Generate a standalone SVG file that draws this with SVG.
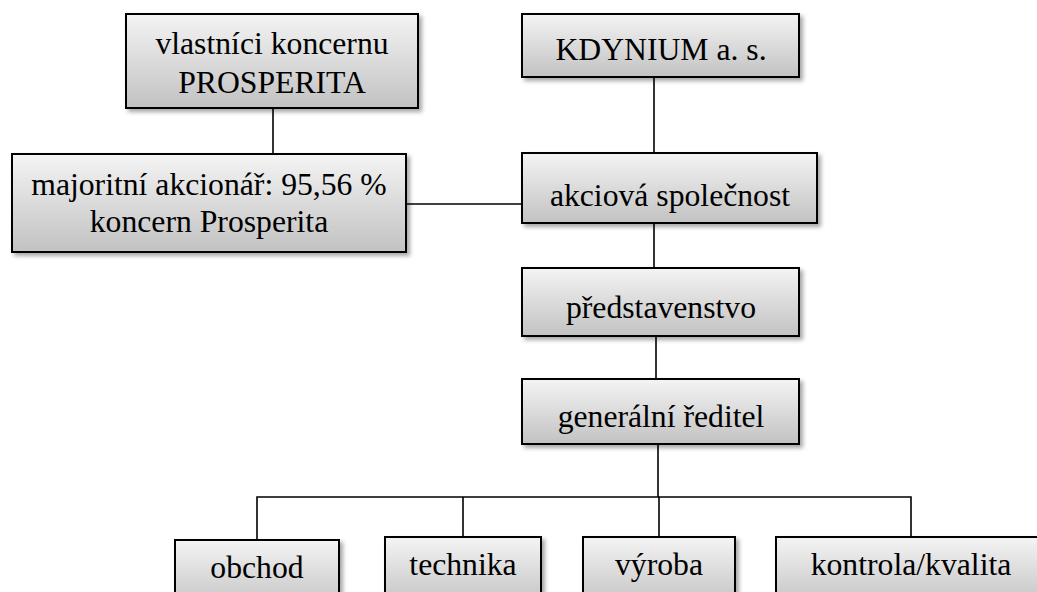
<svg xmlns="http://www.w3.org/2000/svg" width="1037" height="592" viewBox="0 0 1037 592">
  <defs>
    <linearGradient id="g" x1="0" y1="0" x2="0" y2="1">
      <stop offset="0" stop-color="#f4f4f4"/>
      <stop offset="1" stop-color="#c2c2c2"/>
    </linearGradient>
    <filter id="sh" x="-10%" y="-10%" width="125%" height="140%">
      <feDropShadow dx="3" dy="3" stdDeviation="2" flood-color="#000" flood-opacity="0.35"/>
    </filter>
  </defs>
  <style>
    .box { fill: url(#g); stroke: #000; stroke-width: 2; filter: url(#sh); }
    .t { font-family: "Liberation Serif", "Times New Roman", serif; font-size: 31.7px; fill: #000; text-anchor: middle; }
    .c { stroke: #000; stroke-width: 1.6; fill: none; }
  </style>
  <rect width="1037" height="592" fill="#fff"/>
  <g id="connectors">
    <line class="c" x1="273" y1="108" x2="273" y2="154"/>
    <line class="c" x1="654" y1="77" x2="654" y2="153"/>
    <line class="c" x1="406" y1="204" x2="522" y2="204"/>
    <line class="c" x1="654" y1="223" x2="654" y2="268"/>
    <line class="c" x1="656" y1="336" x2="656" y2="379"/>
    <line class="c" x1="658" y1="444" x2="658" y2="497"/>
    <polyline class="c" points="257,540 257,497 911,497 911,537"/>
    <line class="c" x1="463" y1="497" x2="463" y2="537"/>
    <line class="c" x1="659" y1="497" x2="659" y2="537"/>
  </g>
  <g id="vlastnici">
    <rect class="box" x="126" y="14" width="292" height="94"/>
    <text class="t" x="272" y="54">vlastníci koncernu</text>
    <text class="t" x="272" y="93">PROSPERITA</text>
  </g>
  <g id="majoritni">
    <rect class="box" x="12" y="154" width="394" height="98"/>
    <text class="t" x="209" y="195">majoritní akcionář: 95,56 %</text>
    <text class="t" x="209" y="232">koncern Prosperita</text>
  </g>
  <g id="kdynium">
    <rect class="box" x="522" y="14" width="277" height="63"/>
    <text class="t" x="661" y="60">KDYNIUM a. s.</text>
  </g>
  <g id="akciova">
    <rect class="box" x="522" y="153" width="295" height="70"/>
    <text class="t" x="670" y="206">akciová společnost</text>
  </g>
  <g id="predstavenstvo">
    <rect class="box" x="522" y="268" width="277" height="68"/>
    <text class="t" x="661" y="318">představenstvo</text>
  </g>
  <g id="generalni">
    <rect class="box" x="522" y="379" width="277" height="65"/>
    <text class="t" x="661" y="427">generální ředitel</text>
  </g>
  <g id="obchod">
    <rect class="box" x="175" y="540" width="164" height="70"/>
    <text class="t" x="257" y="578">obchod</text>
  </g>
  <g id="technika">
    <rect class="box" x="385" y="537" width="156" height="70"/>
    <text class="t" x="463" y="575">technika</text>
  </g>
  <g id="vyroba">
    <rect class="box" x="583" y="537" width="152" height="70"/>
    <text class="t" x="659" y="575">výroba</text>
  </g>
  <g id="kontrola">
    <rect class="box" x="776" y="537" width="270" height="70"/>
    <text class="t" x="911" y="575">kontrola/kvalita</text>
  </g>
</svg>
